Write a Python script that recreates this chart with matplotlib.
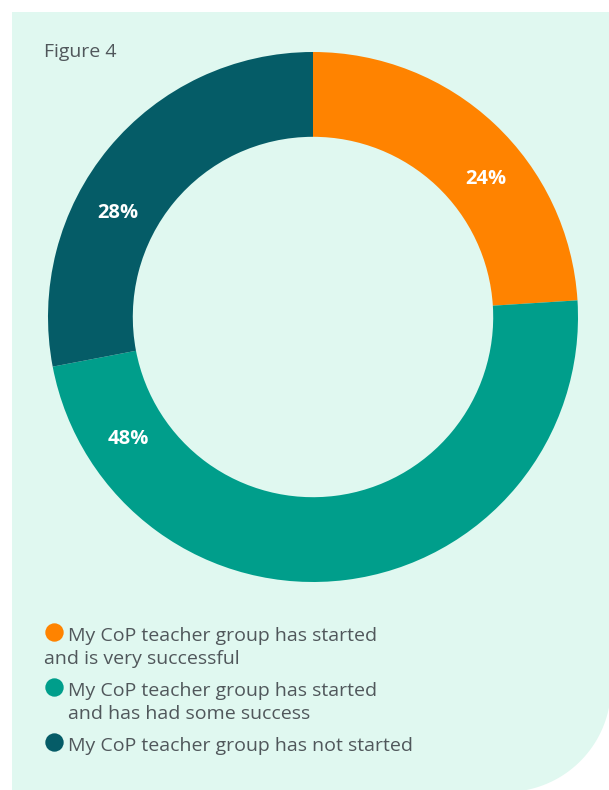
import numpy as np
import matplotlib
matplotlib.use("Agg")
import matplotlib.pyplot as plt
from matplotlib.path import Path
from matplotlib.patches import PathPatch

# Survey results: status of CoP teacher groups
categories = [
    "My CoP teacher group has started\nand is very successful",
    "My CoP teacher group has started\n and has had some success",
    "My CoP teacher group has not started",
]
shares = [24, 48, 28]
colors = ["#FF8300", "#009E8B", "#055C67"]
label_angles = [38.7, 213.5, 152.0]   # where each percentage sits, degrees
title = "Figure 4"

W, H = 609, 790
fig = plt.figure(figsize=(W / 100, H / 100), dpi=100)
fig.patch.set_facecolor("white")

# Overlay in pixel units (origin top-left) for the panel and the legend
bg = fig.add_axes([0, 0, 1, 1])
bg.set_xlim(0, W)
bg.set_ylim(H, 0)
bg.axis("off")

# Mint panel with a rounded lower-right corner
x0, y0, r = 12, 12, 105
theta = np.linspace(0, np.pi / 2, 40)
pts = [(x0, y0), (W + 2, y0), (W + 2, H + 2 - r)]
cx, cy = W + 2 - r, H + 2 - r
pts += [(cx + r * np.cos(t), cy + r * np.sin(t)) for t in theta]
pts += [(x0, H + 2), (x0, y0)]
bg.add_patch(PathPatch(Path(pts), facecolor="#E0F8F0", edgecolor="none"))

text_col = "#50575B"
bg.text(44, 57, title, fontsize=14, color=text_col, family="Open Sans",
        va="baseline", ha="left")

# Donut
cxp, cyp, R = 313, 317, 265
ax = fig.add_axes([(cxp - R) / W, (H - cyp - R) / H, 2 * R / W, 2 * R / H])
wedges, _ = ax.pie(shares, colors=colors, startangle=90, counterclock=False,
                   radius=1.0, wedgeprops=dict(width=0.32, edgecolor="none"))
ax.set_xlim(-1, 1)
ax.set_ylim(-1, 1)
ax.set_aspect("equal")
ax.axis("off")
for val, ang in zip(shares, label_angles):
    rr = 0.835
    a = np.deg2rad(ang)
    ax.text(rr * np.cos(a), rr * np.sin(a), f"{val}%", color="white",
            fontsize=14.5, fontweight="bold", family="Open Sans",
            ha="center", va="center")

# Legend
rows_y = [636, 691, 746]
for lab, col, yy in zip(categories, colors, rows_y):
    bg.scatter([54], [yy - 4], s=175, color=col, zorder=3, linewidths=0)
    lines = lab.split("\n")
    bg.text(68, yy, lines[0], fontsize=14, color=text_col, family="Open Sans",
            va="center", ha="left")
    if len(lines) > 1:
        indent = 68 if lines[1].startswith(" ") else 44
        bg.text(indent, yy + 23, lines[1].strip(), fontsize=14, color=text_col,
                family="Open Sans", va="center", ha="left")

fig.savefig("out.png", dpi=100)
